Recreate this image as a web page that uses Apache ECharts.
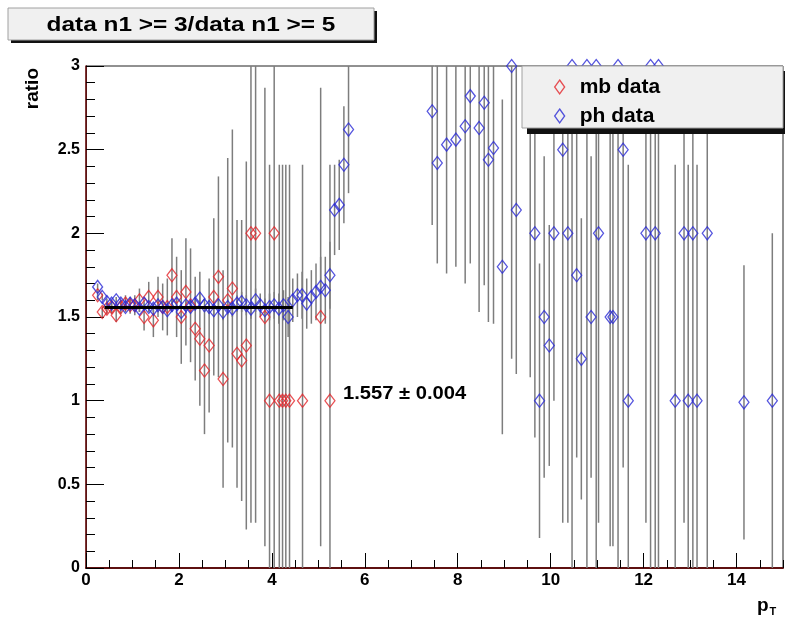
<!DOCTYPE html>
<html>
<head>
<meta charset="utf-8">
<script src="https://cdn.jsdelivr.net/npm/echarts@6/dist/echarts.min.js"></script>
<style>
html,body{margin:0;padding:0;background:#fff;}
#chart{width:785px;height:621px;}
</style>
</head>
<body>
<div id="chart"></div>
<script>
// ---------- data ----------
const titleText = 'data n1 >= 3/data n1 >= 5';
const seriesNames = ['mb data', 'ph data'];
const xTitle = 'p';
const xTitleSub = 'T';
const yTitle = 'ratio';

const redX = [0.25,0.35,0.45,0.55,0.65,0.75,0.85,0.95,1.05,1.15,1.25,1.35,1.45,1.55,1.65,1.75,1.85,1.95,2.05,2.15,2.25,2.35,2.45,2.55,2.65,2.75,2.85,2.95,3.05,3.15,3.25,3.35,3.45,3.55,3.65,3.85,3.95,4.05,4.16,4.23,4.30,4.38,4.66,5.05,5.25];
const redY = [1.63,1.53,1.55,1.56,1.51,1.56,1.58,1.57,1.57,1.60,1.50,1.62,1.48,1.62,1.56,1.56,1.75,1.62,1.50,1.65,1.57,1.43,1.37,1.18,1.33,1.62,1.74,1.13,1.60,1.67,1.28,1.24,1.33,2.00,2.00,1.50,1.00,2.00,1.00,1.00,1.00,1.00,1.00,1.50,1.00];
const redErr = [0.03,0.03,0.03,0.04,0.04,0.04,0.05,0.05,0.06,0.07,0.08,0.09,0.10,0.12,0.14,0.17,0.22,0.24,0.28,0.32,0.34,0.31,0.40,0.38,0.40,0.47,0.60,0.65,0.85,0.95,0.80,0.84,1.10,1.73,1.73,1.37,1.41,2.00,1.41,1.41,1.41,1.41,1.41,1.37,1.41];

const blueX = [0.25,0.35,0.45,0.55,0.65,0.75,0.85,0.95,1.05,1.15,1.25,1.35,1.45,1.55,1.65,1.75,1.85,1.95,2.05,2.15,2.25,2.35,2.45,2.55,2.65,2.75,2.85,2.95,3.05,3.15,3.25,3.35,3.45,3.55,3.65,3.75,3.85,3.95,4.05,4.15,4.25,4.35,4.45,4.55,4.65,4.75,4.85,4.95,5.05,5.15,5.25,5.35,5.45,5.55,5.65,
  7.45,7.56,7.76,7.96,8.16,8.27,8.46,8.57,8.66,8.77,8.96,9.16,9.26,9.56,9.66,9.76,9.86,9.97,10.07,10.26,10.37,10.46,10.56,10.66,10.78,10.87,10.98,11.03,11.28,11.34,11.45,11.56,11.67,12.05,12.15,12.25,12.32,12.68,12.87,12.96,13.06,13.15,13.37,14.16,14.77];
const blueY = [1.68,1.62,1.59,1.58,1.60,1.58,1.56,1.58,1.57,1.55,1.58,1.56,1.55,1.57,1.56,1.54,1.57,1.58,1.53,1.57,1.56,1.58,1.61,1.57,1.56,1.54,1.57,1.53,1.56,1.55,1.58,1.59,1.57,1.55,1.60,1.57,1.54,1.56,1.57,1.55,1.57,1.50,1.60,1.63,1.63,1.58,1.62,1.65,1.68,1.66,1.75,2.14,2.17,2.41,2.62,
  2.73,2.42,2.53,2.56,2.64,2.82,2.63,2.78,2.44,2.51,1.80,3.00,2.14,2.80,2.00,1.00,1.50,1.33,2.00,2.50,2.00,3.00,1.75,1.25,3.00,1.50,3.00,2.00,1.50,1.50,3.00,2.50,1.00,2.00,3.00,2.00,3.00,1.00,2.00,1.00,2.00,1.00,2.00,0.99,1.00];
const blueErr = [0.02,0.02,0.02,0.02,0.02,0.02,0.02,0.02,0.02,0.02,0.02,0.02,0.02,0.03,0.03,0.03,0.03,0.03,0.03,0.03,0.03,0.04,0.04,0.04,0.04,0.04,0.04,0.05,0.05,0.05,0.05,0.06,0.06,0.06,0.07,0.07,0.07,0.08,0.08,0.09,0.09,0.12,0.13,0.13,0.14,0.15,0.16,0.17,0.18,0.20,0.20,0.27,0.27,0.35,0.38,
  0.68,0.60,0.77,0.76,0.94,1.00,1.10,1.09,0.97,1.05,1.00,1.75,0.98,1.66,1.22,0.82,0.96,0.72,1.00,2.23,1.73,3.00,1.09,0.84,3.00,0.96,3.00,1.73,1.37,1.37,3.00,1.90,1.41,1.73,3.00,2.00,3.00,1.41,1.73,1.41,2.00,1.41,2.00,0.82,1.00];

const fitRange = [0.4, 4.45];
const fitValue = 1.557;
const fitText = '1.557 \u00b1 0.004';
const fitTextPos = [5.53, 1.04];

const xMin = 0, xMax = 15, yMin = 0, yMax = 3;

// ---------- chart ----------
const chart = echarts.init(document.getElementById('chart'), null, {renderer: 'canvas'});
const FONT = '"Liberation Sans", Arial, Helvetica, sans-serif';
const RED = '#e3262b';
const BLUE = '#2b2bd6';
const ERRC = '#7d7d7d';

function errRender(params, api) {
  const x = api.value(0), y = api.value(1), e = api.value(2);
  const hi = Math.min(y + e, yMax), lo = Math.max(y - e, yMin);
  const p1 = api.coord([x, hi]);
  const p2 = api.coord([x, lo]);
  return {type: 'line', shape: {x1: p1[0], y1: p1[1], x2: p2[0], y2: p2[1]},
          style: {stroke: ERRC, lineWidth: 1.5}};
}
const redErrData = redX.map((x, i) => [x, redY[i], redErr[i]]);
const blueErrData = blueX.map((x, i) => [x, blueY[i], blueErr[i]]);
const redPts = redX.map((x, i) => [x, redY[i]]);
const bluePts = blueX.map((x, i) => [x, blueY[i]]);

const option = {
  animation: false,
  backgroundColor: '#fff',
  grid: {left: 86, right: 2, top: 66, bottom: 53, show: true, borderColor: '#222', borderWidth: 1, backgroundColor: 'transparent'},
  xAxis: [
    {type: 'value', min: xMin, max: xMax, interval: 0.5, position: 'bottom',
     axisLine: {show: true, lineStyle: {color: '#5e1010', width: 2}},
     axisTick: {show: true, inside: true, length: 8, lineStyle: {color: '#000', width: 1}},
     axisLabel: {show: false}, splitLine: {show: false}},
    {type: 'value', min: xMin, max: xMax, interval: 2, position: 'bottom',
     axisLine: {show: false},
     axisTick: {show: true, inside: true, length: 15, lineStyle: {color: '#000', width: 1}},
     axisLabel: {show: true, margin: 4, showMaxLabel: false, color: '#000', fontFamily: FONT, fontWeight: 'bold', fontSize: 17},
     splitLine: {show: false}}
  ],
  yAxis: [
    {type: 'value', min: yMin, max: yMax, interval: 0.5, position: 'left',
     axisLine: {show: true, lineStyle: {color: '#000', width: 1}},
     axisTick: {show: true, inside: true, length: 18, lineStyle: {color: '#000', width: 1}},
     minorTick: {show: true, splitNumber: 5, length: 9, lineStyle: {color: '#000', width: 1}},
     axisLabel: {show: true, margin: 6, color: '#000', fontFamily: FONT, fontWeight: 'bold', fontSize: 16},
     splitLine: {show: false}},
    {type: 'value', min: yMin, max: yMax, interval: 0.5, position: 'right',
     axisLine: {show: true, lineStyle: {color: '#7a1a1a', width: 1.5}},
     axisTick: {show: false}, axisLabel: {show: false}, splitLine: {show: false}}
  ],
  legend: {
    show: true, orient: 'vertical', left: 549, top: 71, z: 30,
    itemWidth: 10, itemHeight: 14, itemGap: 7,
    textStyle: {color: '#000', fontFamily: FONT, fontWeight: 'bold', fontSize: 21, lineHeight: 22, padding: [0, 0, 0, 10]},
    data: [
      {name: seriesNames[0], icon: 'diamond', itemStyle: {color: 'rgba(0,0,0,0)', borderColor: RED, borderWidth: 1.3}},
      {name: seriesNames[1], icon: 'diamond', itemStyle: {color: 'rgba(0,0,0,0)', borderColor: BLUE, borderWidth: 1.3}}
    ]
  },
  series: [
    {type: 'custom', name: 'mb err', renderItem: errRender, data: redErrData, encode: {x: 0, y: 1}, silent: true, clip: true},
    {type: 'scatter', name: seriesNames[0], data: redPts, symbol: 'diamond', symbolSize: [10, 13], clip: false,
     itemStyle: {color: 'rgba(0,0,0,0)', borderColor: RED, borderWidth: 1.3}, emphasis: {disabled: true}},
    {type: 'custom', name: 'ph err', renderItem: errRender, data: blueErrData, encode: {x: 0, y: 1}, silent: true, clip: true},
    {type: 'scatter', name: seriesNames[1], data: bluePts, symbol: 'diamond', symbolSize: [10, 13], clip: false,
     itemStyle: {color: 'rgba(0,0,0,0)', borderColor: BLUE, borderWidth: 1.3}, emphasis: {disabled: true}},
    {type: 'line', name: 'fit', data: [[fitRange[0], fitValue], [fitRange[1], fitValue]], symbol: 'none',
     lineStyle: {color: '#000', width: 3}, silent: true}
  ]
};
chart.setOption(option);

function px(v) { return chart.convertToPixel({xAxisIndex: 0, yAxisIndex: 0}, v); }
const fp = px(fitTextPos);

chart.setOption({
  graphic: [
    // title box
    {type: 'rect', z: 50, shape: {x: 11, y: 11, width: 366, height: 32}, style: {fill: '#111'}},
    {type: 'rect', z: 51, shape: {x: 8, y: 8, width: 366, height: 32}, style: {fill: '#f0f0f0', stroke: '#a0a0a0', lineWidth: 1}},
    {type: 'text', z: 52, x: 191, y: 25, scaleX: 1.22, originX: 0, originY: 0,
     style: {text: titleText, fill: '#000', font: 'bold 20px ' + FONT, align: 'center', verticalAlign: 'middle'}},
    // legend box
    {type: 'rect', z: 20, shape: {x: 527, y: 71, width: 262, height: 63}, style: {fill: '#111'}},
    {type: 'rect', z: 21, shape: {x: 522, y: 66, width: 261, height: 62}, style: {fill: '#f0f0f0', stroke: '#a0a0a0', lineWidth: 1}},
    // fit result
    {type: 'text', z: 40, x: fp[0], y: fp[1], scaleX: 1.12,
     style: {text: fitText, fill: '#000', font: 'bold 18px ' + FONT, align: 'left', verticalAlign: 'middle'}},
    // y title
    {type: 'text', z: 40, x: 33, y: 68, rotation: Math.PI / 2,
     style: {text: yTitle, fill: '#000', font: 'bold 19px ' + FONT, align: 'right', verticalAlign: 'middle'}},
    // x title p_T
    {type: 'text', z: 40, x: 757, y: 606,
     style: {text: '{p|' + xTitle + '}{t|' + xTitleSub + '}', fill: '#000', align: 'left', verticalAlign: 'middle',
       rich: {p: {font: 'bold 19px ' + FONT, fill: '#000'}, t: {font: 'bold 11px ' + FONT, fill: '#000', padding: [12, 0, 0, 1]}}}}
  ]
});
</script>
</body>
</html>
